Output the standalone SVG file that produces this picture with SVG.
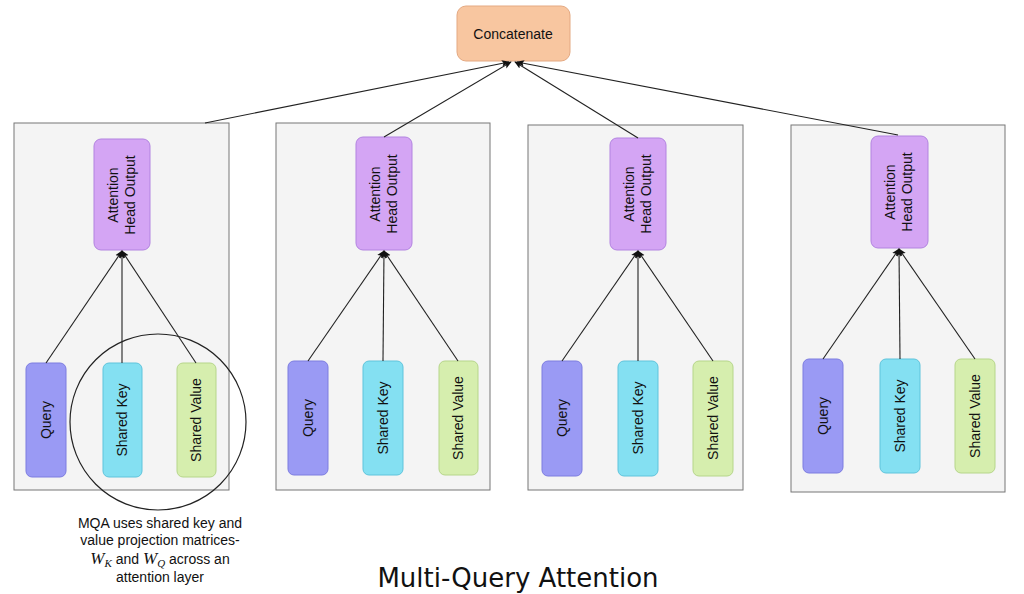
<svg xmlns="http://www.w3.org/2000/svg" width="1024" height="594" viewBox="0 0 1024 594">
<style>
text{font-family:"Liberation Sans",Arial,sans-serif;fill:#111}
.panel{fill:#f4f4f4;stroke:#777;stroke-width:1}
.aho{fill:#d4a5f4;stroke:#b283e0}
.q{fill:#9a9af4;stroke:#7c7ce0}
.k{fill:#84e0f2;stroke:#5ec4dc}
.v{fill:#d6eeae;stroke:#b6d68a}
.lbl{font-size:14px;text-anchor:middle}
.c line{stroke:#222;stroke-width:1.1;marker-end:url(#a)}
</style>
<defs>
<marker id="a" viewBox="0 0 10 10" refX="9" refY="5" markerWidth="8" markerHeight="8" orient="auto-start-reverse" markerUnits="userSpaceOnUse"><path d="M0,1 L10,5 L0,9 L2,5 Z" fill="#111"/></marker>
</defs>
<g id="panel1"><rect class="panel" x="14" y="123" width="215" height="367"/></g>
<g id="panel2"><rect class="panel" x="276" y="123" width="214" height="367"/></g>
<g id="panel3"><rect class="panel" x="528" y="125" width="215" height="365"/></g>
<g id="panel4"><rect class="panel" x="791" y="125" width="214" height="367"/></g>
<g id="concat"><rect x="457" y="6" width="113" height="55" rx="9" fill="#f8c6a0" stroke="#e4a982"/><text class="lbl" x="513" y="39" font-size="15">Concatenate</text></g>

<g id="aho1"><rect class="aho" x="94" y="139" width="56" height="111" rx="7"/><text class="lbl" transform="translate(122,195) rotate(-90)"><tspan x="0" y="-4">Attention</tspan><tspan x="0" y="13">Head Output</tspan></text></g>
<g id="q1"><rect class="q" x="26" y="363" width="40" height="114" rx="6"/><text class="lbl" transform="translate(51,420) rotate(-90)">Query</text></g>
<g id="k1"><rect class="k" x="103" y="363" width="39" height="114" rx="6"/><text class="lbl" transform="translate(127,420) rotate(-90)">Shared Key</text></g>
<g id="v1"><rect class="v" x="177" y="363" width="39" height="114" rx="6"/><text class="lbl" transform="translate(201,420) rotate(-90)">Shared Value</text></g>

<g id="aho2"><rect class="aho" x="356" y="137" width="56" height="113" rx="7"/><text class="lbl" transform="translate(384,194) rotate(-90)"><tspan x="0" y="-4">Attention</tspan><tspan x="0" y="13">Head Output</tspan></text></g>
<g id="q2"><rect class="q" x="288" y="361" width="40" height="114" rx="6"/><text class="lbl" transform="translate(313,418) rotate(-90)">Query</text></g>
<g id="k2"><rect class="k" x="363" y="361" width="40" height="114" rx="6"/><text class="lbl" transform="translate(388,418) rotate(-90)">Shared Key</text></g>
<g id="v2"><rect class="v" x="439" y="361" width="39" height="114" rx="6"/><text class="lbl" transform="translate(463,418) rotate(-90)">Shared Value</text></g>

<g id="aho3"><rect class="aho" x="610" y="138" width="56" height="112" rx="7"/><text class="lbl" transform="translate(638,194) rotate(-90)"><tspan x="0" y="-4">Attention</tspan><tspan x="0" y="13">Head Output</tspan></text></g>
<g id="q3"><rect class="q" x="542" y="361" width="40" height="115" rx="6"/><text class="lbl" transform="translate(567,418) rotate(-90)">Query</text></g>
<g id="k3"><rect class="k" x="618" y="361" width="40" height="115" rx="6"/><text class="lbl" transform="translate(643,418) rotate(-90)">Shared Key</text></g>
<g id="v3"><rect class="v" x="693" y="361" width="40" height="115" rx="6"/><text class="lbl" transform="translate(718,418) rotate(-90)">Shared Value</text></g>

<g id="aho4"><rect class="aho" x="871" y="136" width="57" height="112" rx="7"/><text class="lbl" transform="translate(899,192) rotate(-90)"><tspan x="0" y="-4">Attention</tspan><tspan x="0" y="13">Head Output</tspan></text></g>
<g id="q4"><rect class="q" x="803" y="359" width="40" height="114" rx="6"/><text class="lbl" transform="translate(828,416) rotate(-90)">Query</text></g>
<g id="k4"><rect class="k" x="880" y="359" width="40" height="114" rx="6"/><text class="lbl" transform="translate(905,416) rotate(-90)">Shared Key</text></g>
<g id="v4"><rect class="v" x="955" y="359" width="40" height="114" rx="6"/><text class="lbl" transform="translate(980,416) rotate(-90)">Shared Value</text></g>

<g id="connectors" class="c">
<line x1="205" y1="123" x2="509" y2="62"/>
<line x1="384" y1="137" x2="511" y2="62"/>
<line x1="638" y1="138" x2="515" y2="62"/>
<line x1="898" y1="135" x2="517" y2="62"/>
<line x1="46" y1="363" x2="122" y2="251"/>
<line x1="122" y1="363" x2="122" y2="251"/>
<line x1="196" y1="363" x2="122" y2="251"/>
<line x1="308" y1="361" x2="384" y2="251"/>
<line x1="383" y1="361" x2="384" y2="251"/>
<line x1="458" y1="361" x2="384" y2="251"/>
<line x1="562" y1="361" x2="638" y2="251"/>
<line x1="638" y1="361" x2="638" y2="251"/>
<line x1="713" y1="361" x2="638" y2="251"/>
<line x1="823" y1="359" x2="899" y2="249"/>
<line x1="900" y1="359" x2="899" y2="249"/>
<line x1="975" y1="359" x2="899" y2="249"/>
</g>
<g id="highlight"><circle cx="158" cy="422" r="88" fill="none" stroke="#222" stroke-width="1.2"/></g>
<g id="note">
<text class="lbl" x="160" y="528">MQA uses shared key and</text>
<text class="lbl" x="160" y="545">value projection matrices-</text>
<text class="lbl" x="160" y="564"><tspan font-family="'Liberation Serif',serif" font-style="italic" font-size="17">W</tspan><tspan font-family="'Liberation Serif',serif" font-style="italic" font-size="11" dy="3">K</tspan><tspan dy="-3"> and </tspan><tspan font-family="'Liberation Serif',serif" font-style="italic" font-size="17">W</tspan><tspan font-family="'Liberation Serif',serif" font-style="italic" font-size="11" dy="3">Q</tspan><tspan dy="-3"> across an</tspan></text>
<text class="lbl" x="160" y="582">attention layer</text>
</g>
<text id="title" x="518" y="587" text-anchor="middle" font-size="26" style="font-family:'DejaVu Sans',sans-serif">Multi-Query Attention</text>
</svg>
